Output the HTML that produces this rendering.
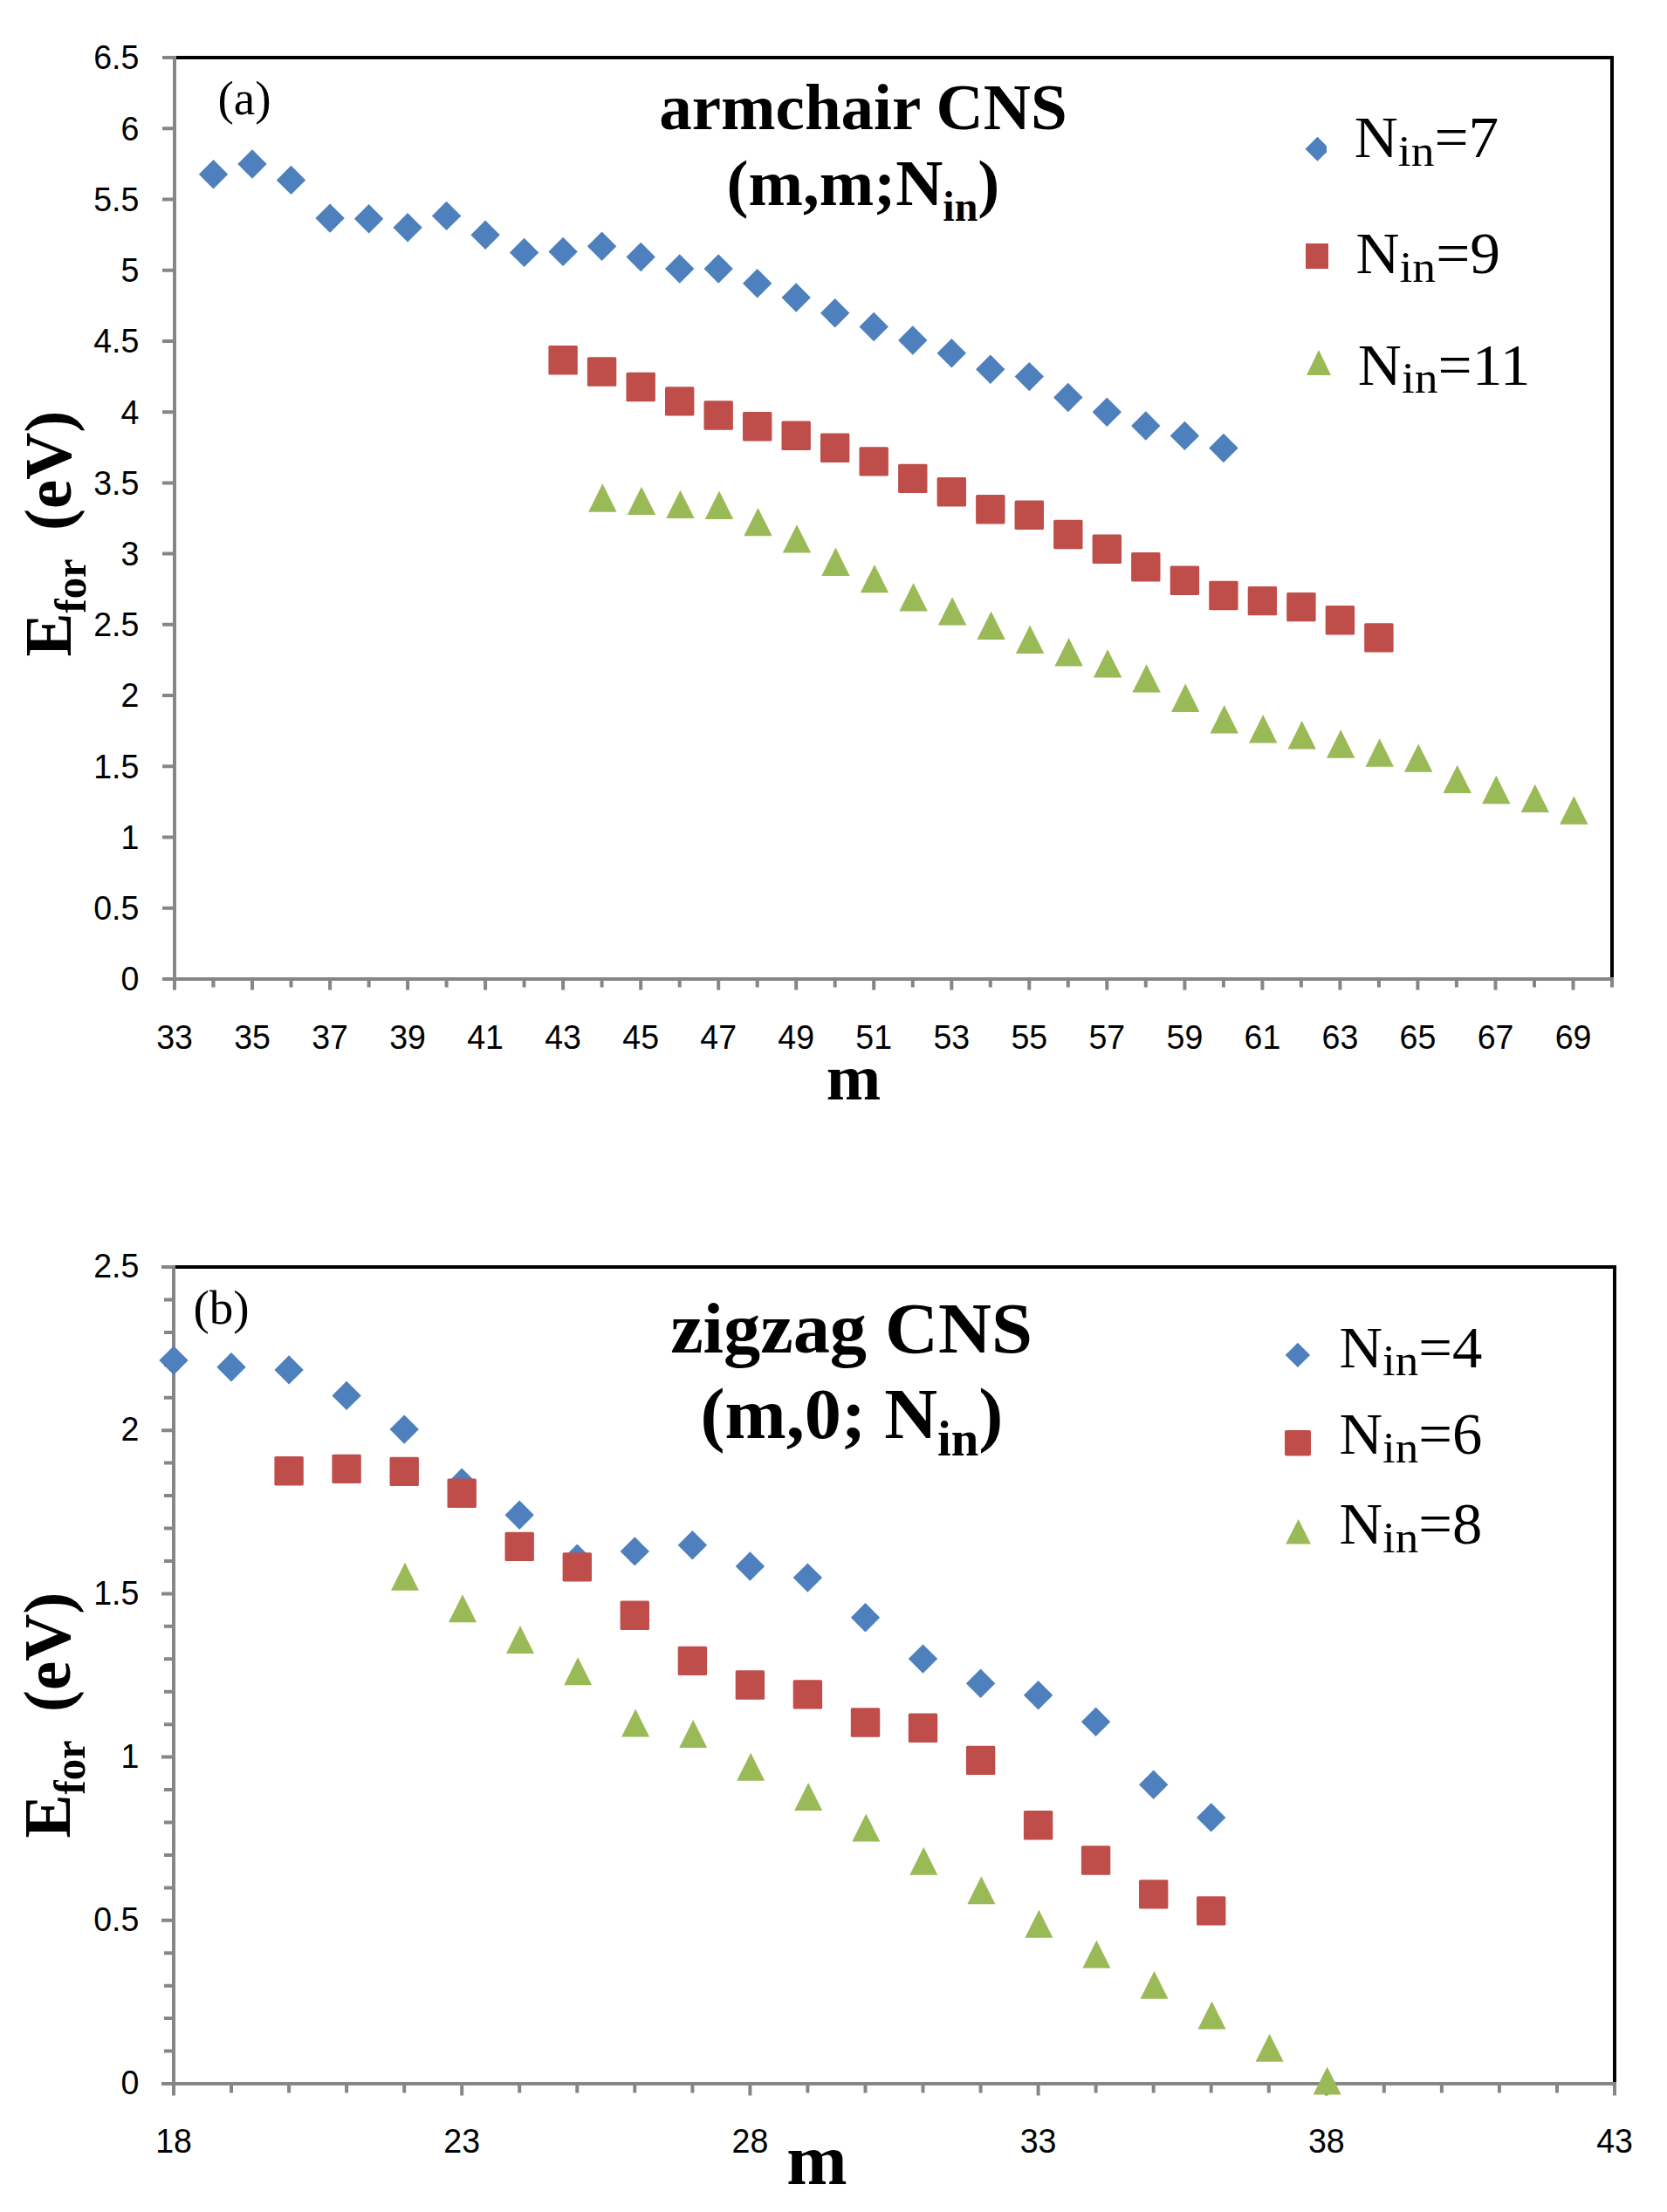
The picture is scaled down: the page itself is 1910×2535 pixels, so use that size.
<!DOCTYPE html>
<html lang="en"><head><meta charset="utf-8"><title>Formation energy of CNS</title>
<style>html,body{margin:0;padding:0;background:#fff}svg{display:block}.tk{font-family:"Liberation Sans",sans-serif;font-size:39.7px;fill:#000}.sb{font-family:"Liberation Serif",serif;font-weight:bold;fill:#000}.sr{font-family:"Liberation Serif",serif;fill:#000}</style></head><body>
<svg width="1910" height="2535" viewBox="0 0 1910 2535">
<rect width="1910" height="2535" fill="#fff"/>
<g id="chart-a">
<g><path d="M244.5 183L261.2 199.7L244.5 216.4L227.8 199.7Z" fill="#4d80bc"/><path d="M289 171.3L305.7 188L289 204.7L272.3 188Z" fill="#4d80bc"/><path d="M333.5 189.7L350.2 206.4L333.5 223.1L316.8 206.4Z" fill="#4d80bc"/><path d="M378.1 233.4L394.8 250.1L378.1 266.8L361.4 250.1Z" fill="#4d80bc"/><path d="M422.6 234.1L439.3 250.8L422.6 267.5L405.9 250.8Z" fill="#4d80bc"/><path d="M467.1 244.1L483.8 260.8L467.1 277.5L450.4 260.8Z" fill="#4d80bc"/><path d="M511.6 230.7L528.3 247.4L511.6 264.1L494.9 247.4Z" fill="#4d80bc"/><path d="M556.1 252.5L572.8 269.2L556.1 285.9L539.4 269.2Z" fill="#4d80bc"/><path d="M600.6 272.7L617.3 289.4L600.6 306.1L583.9 289.4Z" fill="#4d80bc"/><path d="M645.1 271.7L661.8 288.4L645.1 305.1L628.4 288.4Z" fill="#4d80bc"/><path d="M689.6 265.6L706.3 282.3L689.6 299L672.9 282.3Z" fill="#4d80bc"/><path d="M734.2 277.8L750.9 294.5L734.2 311.2L717.5 294.5Z" fill="#4d80bc"/><path d="M778.7 291.3L795.4 308L778.7 324.7L762 308Z" fill="#4d80bc"/><path d="M823.2 291.3L839.9 308L823.2 324.7L806.5 308Z" fill="#4d80bc"/><path d="M867.7 308.1L884.4 324.8L867.7 341.5L851 324.8Z" fill="#4d80bc"/><path d="M912.2 324.3L928.9 341L912.2 357.7L895.5 341Z" fill="#4d80bc"/><path d="M956.7 342.1L973.4 358.8L956.7 375.5L940 358.8Z" fill="#4d80bc"/><path d="M1001.2 357.8L1017.9 374.5L1001.2 391.2L984.5 374.5Z" fill="#4d80bc"/><path d="M1045.8 373.3L1062.5 390L1045.8 406.7L1029.1 390Z" fill="#4d80bc"/><path d="M1090.3 388.1L1107 404.8L1090.3 421.5L1073.6 404.8Z" fill="#4d80bc"/><path d="M1134.8 406.5L1151.5 423.2L1134.8 439.9L1118.1 423.2Z" fill="#4d80bc"/><path d="M1179.3 414.9L1196 431.6L1179.3 448.3L1162.6 431.6Z" fill="#4d80bc"/><path d="M1223.8 438.8L1240.5 455.5L1223.8 472.2L1207.1 455.5Z" fill="#4d80bc"/><path d="M1268.3 455.6L1285 472.3L1268.3 489L1251.6 472.3Z" fill="#4d80bc"/><path d="M1312.8 471.3L1329.5 488L1312.8 504.7L1296.1 488Z" fill="#4d80bc"/><path d="M1357.4 482.7L1374.1 499.4L1357.4 516.1L1340.7 499.4Z" fill="#4d80bc"/><path d="M1401.9 496.8L1418.6 513.5L1401.9 530.2L1385.2 513.5Z" fill="#4d80bc"/></g>
<g><rect x="628.4" y="396.1" width="33.4" height="33.4" rx="1.5" fill="#bf4e4b"/><rect x="672.9" y="409.3" width="33.4" height="33.4" rx="1.5" fill="#bf4e4b"/><rect x="717.5" y="426.8" width="33.4" height="33.4" rx="1.5" fill="#bf4e4b"/><rect x="762" y="443.2" width="33.4" height="33.4" rx="1.5" fill="#bf4e4b"/><rect x="806.5" y="459.3" width="33.4" height="33.4" rx="1.5" fill="#bf4e4b"/><rect x="851" y="472" width="33.4" height="33.4" rx="1.5" fill="#bf4e4b"/><rect x="895.5" y="482.5" width="33.4" height="33.4" rx="1.5" fill="#bf4e4b"/><rect x="940" y="496.5" width="33.4" height="33.4" rx="1.5" fill="#bf4e4b"/><rect x="984.5" y="512.2" width="33.4" height="33.4" rx="1.5" fill="#bf4e4b"/><rect x="1029.1" y="531.7" width="33.4" height="33.4" rx="1.5" fill="#bf4e4b"/><rect x="1073.6" y="547.1" width="33.4" height="33.4" rx="1.5" fill="#bf4e4b"/><rect x="1118.1" y="567.1" width="33.4" height="33.4" rx="1.5" fill="#bf4e4b"/><rect x="1162.6" y="573.6" width="33.4" height="33.4" rx="1.5" fill="#bf4e4b"/><rect x="1207.1" y="595.8" width="33.4" height="33.4" rx="1.5" fill="#bf4e4b"/><rect x="1251.6" y="612.6" width="33.4" height="33.4" rx="1.5" fill="#bf4e4b"/><rect x="1296.1" y="633.1" width="33.4" height="33.4" rx="1.5" fill="#bf4e4b"/><rect x="1340.7" y="648.6" width="33.4" height="33.4" rx="1.5" fill="#bf4e4b"/><rect x="1385.2" y="665.8" width="33.4" height="33.4" rx="1.5" fill="#bf4e4b"/><rect x="1429.7" y="671.9" width="33.4" height="33.4" rx="1.5" fill="#bf4e4b"/><rect x="1474.2" y="678.9" width="33.4" height="33.4" rx="1.5" fill="#bf4e4b"/><rect x="1518.7" y="694.1" width="33.4" height="33.4" rx="1.5" fill="#bf4e4b"/><rect x="1563.2" y="714.2" width="33.4" height="33.4" rx="1.5" fill="#bf4e4b"/></g>
<g><path d="M690.4 554.3L706.6 586.7L674.2 586.7Z" fill="#9aba57"/><path d="M735 557.7L751.2 590.1L718.8 590.1Z" fill="#9aba57"/><path d="M779.5 561.7L795.7 594.1L763.3 594.1Z" fill="#9aba57"/><path d="M824 562.6L840.2 595L807.8 595Z" fill="#9aba57"/><path d="M868.5 581.9L884.7 614.3L852.3 614.3Z" fill="#9aba57"/><path d="M913 601.2L929.2 633.6L896.8 633.6Z" fill="#9aba57"/><path d="M957.5 627.6L973.7 660L941.3 660Z" fill="#9aba57"/><path d="M1002 646.9L1018.2 679.3L985.8 679.3Z" fill="#9aba57"/><path d="M1046.6 668L1062.8 700.4L1030.4 700.4Z" fill="#9aba57"/><path d="M1091.1 684.2L1107.3 716.6L1074.9 716.6Z" fill="#9aba57"/><path d="M1135.6 700.6L1151.8 733L1119.4 733Z" fill="#9aba57"/><path d="M1180.1 716.5L1196.3 748.9L1163.9 748.9Z" fill="#9aba57"/><path d="M1224.6 731.1L1240.8 763.5L1208.4 763.5Z" fill="#9aba57"/><path d="M1269.1 744.1L1285.3 776.5L1252.9 776.5Z" fill="#9aba57"/><path d="M1313.6 761.2L1329.8 793.6L1297.4 793.6Z" fill="#9aba57"/><path d="M1358.2 783.5L1374.4 815.9L1342 815.9Z" fill="#9aba57"/><path d="M1402.7 808.1L1418.9 840.5L1386.5 840.5Z" fill="#9aba57"/><path d="M1447.2 819.1L1463.4 851.5L1431 851.5Z" fill="#9aba57"/><path d="M1491.7 826L1507.9 858.4L1475.5 858.4Z" fill="#9aba57"/><path d="M1536.2 836.3L1552.4 868.7L1520 868.7Z" fill="#9aba57"/><path d="M1580.7 846.3L1596.9 878.7L1564.5 878.7Z" fill="#9aba57"/><path d="M1625.2 852.4L1641.4 884.8L1609 884.8Z" fill="#9aba57"/><path d="M1669.7 876.7L1685.9 909.1L1653.5 909.1Z" fill="#9aba57"/><path d="M1714.3 888.8L1730.5 921.2L1698.1 921.2Z" fill="#9aba57"/><path d="M1758.8 898.7L1775 931.1L1742.6 931.1Z" fill="#9aba57"/><path d="M1803.3 912.3L1819.5 944.7L1787.1 944.7Z" fill="#9aba57"/></g>
<path d="M200 64V1124 M186 1122H1849 M186 1040.8H200 M186 959.5H200 M186 878.3H200 M186 797.1H200 M186 715.8H200 M186 634.6H200 M186 553.4H200 M186 472.2H200 M186 390.9H200 M186 309.7H200 M186 228.5H200 M186 147.2H200 M186 66H200 M200 1122V1134.5 M244.5 1122V1131.5 M289 1122V1134.5 M333.5 1122V1131.5 M378.1 1122V1134.5 M422.6 1122V1131.5 M467.1 1122V1134.5 M511.6 1122V1131.5 M556.1 1122V1134.5 M600.6 1122V1131.5 M645.1 1122V1134.5 M689.6 1122V1131.5 M734.2 1122V1134.5 M778.7 1122V1131.5 M823.2 1122V1134.5 M867.7 1122V1131.5 M912.2 1122V1134.5 M956.7 1122V1131.5 M1001.2 1122V1134.5 M1045.8 1122V1131.5 M1090.3 1122V1134.5 M1134.8 1122V1131.5 M1179.3 1122V1134.5 M1223.8 1122V1131.5 M1268.3 1122V1134.5 M1312.8 1122V1131.5 M1357.4 1122V1134.5 M1401.9 1122V1131.5 M1446.4 1122V1134.5 M1490.9 1122V1131.5 M1535.4 1122V1134.5 M1579.9 1122V1131.5 M1624.4 1122V1134.5 M1668.9 1122V1131.5 M1713.5 1122V1134.5 M1758 1122V1131.5 M1802.5 1122V1134.5 M1847 1122V1131.5" stroke="#868686" stroke-width="4" fill="none"/>
<path d="M202 66H1847V1120" stroke="#000" stroke-width="4" fill="none" stroke-linejoin="miter"/>
<g class="tk" text-anchor="end">
<text transform="translate(159.3 1135.3) scale(0.945 1)">0</text>
<text transform="translate(159.3 1054.1) scale(0.945 1)">0.5</text>
<text transform="translate(159.3 972.8) scale(0.945 1)">1</text>
<text transform="translate(159.3 891.6) scale(0.945 1)">1.5</text>
<text transform="translate(159.3 810.4) scale(0.945 1)">2</text>
<text transform="translate(159.3 729.1) scale(0.945 1)">2.5</text>
<text transform="translate(159.3 647.9) scale(0.945 1)">3</text>
<text transform="translate(159.3 566.7) scale(0.945 1)">3.5</text>
<text transform="translate(159.3 485.5) scale(0.945 1)">4</text>
<text transform="translate(159.3 404.2) scale(0.945 1)">4.5</text>
<text transform="translate(159.3 323) scale(0.945 1)">5</text>
<text transform="translate(159.3 241.8) scale(0.945 1)">5.5</text>
<text transform="translate(159.3 160.5) scale(0.945 1)">6</text>
<text transform="translate(159.3 79.3) scale(0.945 1)">6.5</text>
</g>
<g class="tk" text-anchor="middle">
<text transform="translate(200 1202) scale(0.945 1)">33</text>
<text transform="translate(289 1202) scale(0.945 1)">35</text>
<text transform="translate(378.1 1202) scale(0.945 1)">37</text>
<text transform="translate(467.1 1202) scale(0.945 1)">39</text>
<text transform="translate(556.1 1202) scale(0.945 1)">41</text>
<text transform="translate(645.1 1202) scale(0.945 1)">43</text>
<text transform="translate(734.2 1202) scale(0.945 1)">45</text>
<text transform="translate(823.2 1202) scale(0.945 1)">47</text>
<text transform="translate(912.2 1202) scale(0.945 1)">49</text>
<text transform="translate(1001.2 1202) scale(0.945 1)">51</text>
<text transform="translate(1090.3 1202) scale(0.945 1)">53</text>
<text transform="translate(1179.3 1202) scale(0.945 1)">55</text>
<text transform="translate(1268.3 1202) scale(0.945 1)">57</text>
<text transform="translate(1357.4 1202) scale(0.945 1)">59</text>
<text transform="translate(1446.4 1202) scale(0.945 1)">61</text>
<text transform="translate(1535.4 1202) scale(0.945 1)">63</text>
<text transform="translate(1624.4 1202) scale(0.945 1)">65</text>
<text transform="translate(1713.5 1202) scale(0.945 1)">67</text>
<text transform="translate(1802.5 1202) scale(0.945 1)">69</text>
</g>
<text class="sr" x="249.5" y="131" font-size="55">(a)</text>
<text class="sb" x="989" y="147.5" font-size="75" text-anchor="middle">armchair CNS</text>
<text class="sb" x="832.5" y="235.3" font-size="75">(m,m;N<tspan font-size="48" dy="17.3">in</tspan><tspan dy="-17.3">)</tspan></text>
<text class="sb" x="978" y="1259.6" font-size="75" text-anchor="middle">m</text>
<text class="sb" transform="translate(81 752.5) scale(1.025 1) rotate(-90)" font-size="75">E<tspan font-size="48.5" dy="16.8">for</tspan><tspan dy="-16.8" dx="-5" style="white-space:pre">  (eV)</tspan></text>
<path d="M1509.5 156.8L1520 167.3V174.3L1509.5 184.8L1495.5 170.8Z" fill="#4d80bc"/>
<rect x="1496" y="279" width="26" height="29" fill="#bf4e4b"/>
<path d="M1511 401L1525 430H1497Z" fill="#9aba57"/>
<text class="sr" transform="translate(1551.7 180.4) scale(1.04 1)" font-size="66.7">N<tspan font-size="51.5" dy="9.6">in</tspan><tspan dy="-9.6">=7</tspan></text>
<text class="sr" transform="translate(1553.4 313) scale(1.04 1)" font-size="66.7">N<tspan font-size="51.5" dy="9.6">in</tspan><tspan dy="-9.6">=9</tspan></text>
<text class="sr" transform="translate(1555.8 440.7) scale(1.04 1)" font-size="66.7">N<tspan font-size="51.5" dy="9.6">in</tspan><tspan dy="-9.6">=11</tspan></text>
</g>
<g id="chart-b">
<path d="M199 1450V2390 M185 2388H1852 M188 2350.6H199 M188 2313.1H199 M188 2275.7H199 M188 2238.2H199 M185 2200.8H199 M188 2163.4H199 M188 2125.9H199 M188 2088.5H199 M188 2051H199 M185 2013.6H199 M188 1976.2H199 M188 1938.7H199 M188 1901.3H199 M188 1863.8H199 M185 1826.4H199 M188 1789H199 M188 1751.5H199 M188 1714.1H199 M188 1676.6H199 M185 1639.2H199 M188 1601.8H199 M188 1564.3H199 M188 1526.9H199 M188 1489.4H199 M185 1452H199 M199 2388V2401.5 M265 2388V2398.5 M331.1 2388V2398.5 M397.1 2388V2398.5 M463.2 2388V2398.5 M529.2 2388V2401.5 M595.2 2388V2398.5 M661.3 2388V2398.5 M727.3 2388V2398.5 M793.4 2388V2398.5 M859.4 2388V2401.5 M925.4 2388V2398.5 M991.5 2388V2398.5 M1057.5 2388V2398.5 M1123.6 2388V2398.5 M1189.6 2388V2401.5 M1255.6 2388V2398.5 M1321.7 2388V2398.5 M1387.7 2388V2398.5 M1453.8 2388V2398.5 M1519.8 2388V2401.5 M1585.8 2388V2398.5 M1651.9 2388V2398.5 M1717.9 2388V2398.5 M1784 2388V2398.5 M1850 2388V2401.5" stroke="#868686" stroke-width="4" fill="none"/>
<path d="M201 1452H1850V2386" stroke="#000" stroke-width="4" fill="none"/>
<g><path d="M199 1542.4L215.7 1559.1L199 1575.8L182.3 1559.1Z" fill="#4d80bc"/><path d="M265 1550.1L281.7 1566.8L265 1583.5L248.3 1566.8Z" fill="#4d80bc"/><path d="M331.1 1553.2L347.8 1569.9L331.1 1586.6L314.4 1569.9Z" fill="#4d80bc"/><path d="M397.1 1582.7L413.8 1599.4L397.1 1616.1L380.4 1599.4Z" fill="#4d80bc"/><path d="M463.2 1621.4L479.9 1638.1L463.2 1654.8L446.5 1638.1Z" fill="#4d80bc"/><path d="M529.2 1682.5L545.9 1699.2L529.2 1715.9L512.5 1699.2Z" fill="#4d80bc"/><path d="M595.2 1719.5L611.9 1736.2L595.2 1752.9L578.5 1736.2Z" fill="#4d80bc"/><path d="M661.3 1769.5L678 1786.2L661.3 1802.9L644.6 1786.2Z" fill="#4d80bc"/><path d="M727.3 1761.2L744 1777.9L727.3 1794.6L710.6 1777.9Z" fill="#4d80bc"/><path d="M793.4 1754.1L810.1 1770.8L793.4 1787.5L776.7 1770.8Z" fill="#4d80bc"/><path d="M859.4 1778.3L876.1 1795L859.4 1811.7L842.7 1795Z" fill="#4d80bc"/><path d="M925.4 1791.4L942.1 1808.1L925.4 1824.8L908.7 1808.1Z" fill="#4d80bc"/><path d="M991.5 1837L1008.2 1853.7L991.5 1870.4L974.8 1853.7Z" fill="#4d80bc"/><path d="M1057.5 1884.4L1074.2 1901.1L1057.5 1917.8L1040.8 1901.1Z" fill="#4d80bc"/><path d="M1123.6 1912.6L1140.3 1929.3L1123.6 1946L1106.9 1929.3Z" fill="#4d80bc"/><path d="M1189.6 1926L1206.3 1942.7L1189.6 1959.4L1172.9 1942.7Z" fill="#4d80bc"/><path d="M1255.6 1956.5L1272.3 1973.2L1255.6 1989.9L1238.9 1973.2Z" fill="#4d80bc"/><path d="M1321.7 2028.6L1338.4 2045.3L1321.7 2062L1305 2045.3Z" fill="#4d80bc"/><path d="M1387.7 2066.2L1404.4 2082.9L1387.7 2099.6L1371 2082.9Z" fill="#4d80bc"/></g>
<g><rect x="314.4" y="1669.1" width="33.4" height="33.4" rx="1.5" fill="#bf4e4b"/><rect x="380.4" y="1666.7" width="33.4" height="33.4" rx="1.5" fill="#bf4e4b"/><rect x="446.5" y="1669.7" width="33.4" height="33.4" rx="1.5" fill="#bf4e4b"/><rect x="512.5" y="1694.5" width="33.4" height="33.4" rx="1.5" fill="#bf4e4b"/><rect x="578.5" y="1755.7" width="33.4" height="33.4" rx="1.5" fill="#bf4e4b"/><rect x="644.6" y="1779.2" width="33.4" height="33.4" rx="1.5" fill="#bf4e4b"/><rect x="710.6" y="1834.6" width="33.4" height="33.4" rx="1.5" fill="#bf4e4b"/><rect x="776.7" y="1886.7" width="33.4" height="33.4" rx="1.5" fill="#bf4e4b"/><rect x="842.7" y="1914.3" width="33.4" height="33.4" rx="1.5" fill="#bf4e4b"/><rect x="908.7" y="1925.2" width="33.4" height="33.4" rx="1.5" fill="#bf4e4b"/><rect x="974.8" y="1957.3" width="33.4" height="33.4" rx="1.5" fill="#bf4e4b"/><rect x="1040.8" y="1963.6" width="33.4" height="33.4" rx="1.5" fill="#bf4e4b"/><rect x="1106.9" y="2000.7" width="33.4" height="33.4" rx="1.5" fill="#bf4e4b"/><rect x="1172.9" y="2075.1" width="33.4" height="33.4" rx="1.5" fill="#bf4e4b"/><rect x="1238.9" y="2115.3" width="33.4" height="33.4" rx="1.5" fill="#bf4e4b"/><rect x="1305" y="2154.2" width="33.4" height="33.4" rx="1.5" fill="#bf4e4b"/><rect x="1371" y="2173.2" width="33.4" height="33.4" rx="1.5" fill="#bf4e4b"/></g>
<g><path d="M464 1790.7L480 1822.7L448 1822.7Z" fill="#9aba57"/><path d="M530 1827.3L546 1859.3L514 1859.3Z" fill="#9aba57"/><path d="M596 1862.9L612 1894.9L580 1894.9Z" fill="#9aba57"/><path d="M662.1 1899.3L678.1 1931.3L646.1 1931.3Z" fill="#9aba57"/><path d="M728.1 1958.6L744.1 1990.6L712.1 1990.6Z" fill="#9aba57"/><path d="M794.2 1971L810.2 2003L778.2 2003Z" fill="#9aba57"/><path d="M860.2 2008.7L876.2 2040.7L844.2 2040.7Z" fill="#9aba57"/><path d="M926.2 2043.1L942.2 2075.1L910.2 2075.1Z" fill="#9aba57"/><path d="M992.3 2078.4L1008.3 2110.4L976.3 2110.4Z" fill="#9aba57"/><path d="M1058.3 2116.8L1074.3 2148.8L1042.3 2148.8Z" fill="#9aba57"/><path d="M1124.4 2150.2L1140.4 2182.2L1108.4 2182.2Z" fill="#9aba57"/><path d="M1190.4 2188.8L1206.4 2220.8L1174.4 2220.8Z" fill="#9aba57"/><path d="M1256.4 2223.5L1272.4 2255.5L1240.4 2255.5Z" fill="#9aba57"/><path d="M1322.5 2258.8L1338.5 2290.8L1306.5 2290.8Z" fill="#9aba57"/><path d="M1388.5 2293.5L1404.5 2325.5L1372.5 2325.5Z" fill="#9aba57"/><path d="M1454.6 2330.8L1470.6 2362.8L1438.6 2362.8Z" fill="#9aba57"/><path d="M1520.6 2368.4L1536.6 2400.4L1504.6 2400.4Z" fill="#9aba57"/></g>
<g class="tk" text-anchor="end">
<text transform="translate(159.3 2400.2) scale(0.945 1)">0</text>
<text transform="translate(159.3 2213) scale(0.945 1)">0.5</text>
<text transform="translate(159.3 2025.8) scale(0.945 1)">1</text>
<text transform="translate(159.3 1838.6) scale(0.945 1)">1.5</text>
<text transform="translate(159.3 1651.4) scale(0.945 1)">2</text>
<text transform="translate(159.3 1464.2) scale(0.945 1)">2.5</text>
</g>
<g class="tk" text-anchor="middle">
<text transform="translate(199 2467.4) scale(0.945 1)">18</text>
<text transform="translate(529.2 2467.4) scale(0.945 1)">23</text>
<text transform="translate(859.4 2467.4) scale(0.945 1)">28</text>
<text transform="translate(1189.6 2467.4) scale(0.945 1)">33</text>
<text transform="translate(1519.8 2467.4) scale(0.945 1)">38</text>
<text transform="translate(1850 2467.4) scale(0.945 1)">43</text>
</g>
<text class="sr" x="221.5" y="1516.7" font-size="55">(b)</text>
<text class="sb" transform="translate(975.5 1549.8) scale(1.013 1)" font-size="83.3" text-anchor="middle">zigzag CNS</text>
<text class="sb" transform="translate(802.5 1648) scale(1.012 1)" font-size="83.3">(m,0; N<tspan font-size="56" dy="19.8">in</tspan><tspan dy="-19.8">)</tspan></text>
<text class="sb" x="936" y="2502.9" font-size="83.3" text-anchor="middle">m</text>
<text class="sb" transform="translate(80 2106.5) scale(1.025 1) rotate(-90)" font-size="75">E<tspan font-size="48.5" dy="16.8">for</tspan><tspan dy="-16.8" dx="-5" style="white-space:pre">  (eV)</tspan></text>
<path d="M1486.9 1538.7L1501.1 1552.9L1486.9 1567.1L1472.7 1552.9Z" fill="#4d80bc"/>
<rect x="1472" y="1639" width="30" height="29.6" rx="2" fill="#bf4e4b"/>
<path d="M1487.6 1741L1502 1769.5H1473.2Z" fill="#9aba57"/>
<text class="sr" transform="translate(1534.5 1567) scale(1.03 1)" font-size="66.7">N<tspan font-size="51.5" dy="9.4">in</tspan><tspan dy="-9.4">=4</tspan></text>
<text class="sr" transform="translate(1534.5 1666.3) scale(1.03 1)" font-size="66.7">N<tspan font-size="51.5" dy="9.4">in</tspan><tspan dy="-9.4">=6</tspan></text>
<text class="sr" transform="translate(1534.5 1769.4) scale(1.03 1)" font-size="66.7">N<tspan font-size="51.5" dy="9.4">in</tspan><tspan dy="-9.4">=8</tspan></text>
</g>
</svg></body></html>
